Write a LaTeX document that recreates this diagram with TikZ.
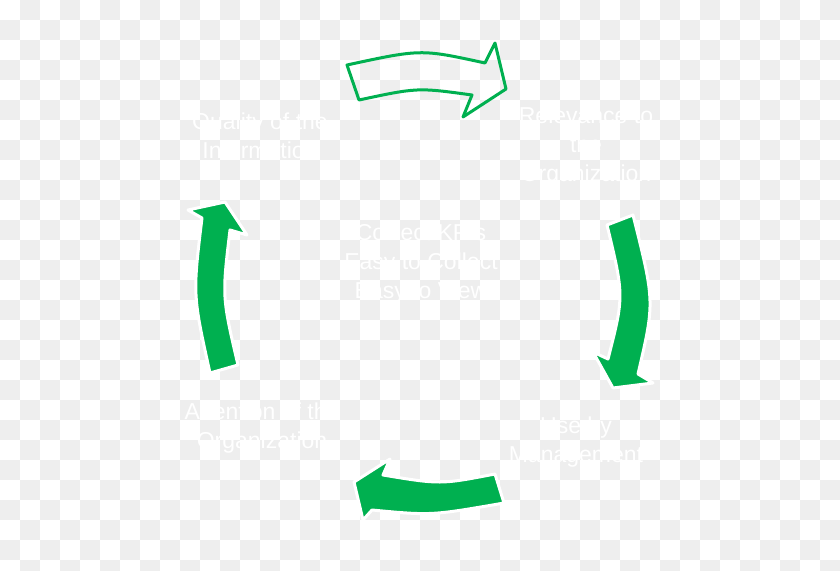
\documentclass[tikz,border=0pt]{standalone}
\usepackage{fontspec}
\setmainfont{Liberation Sans}
\definecolor{CycleGreen}{RGB}{0,176,80}
\definecolor{CheckerGrey}{RGB}{238,238,238}
\tikzset{
  checker/.style={fill=CheckerGrey},
  cyclelabel/.style={text=white, align=center, inner sep=0pt, font=\fontsize{23}{29}\selectfont},
  filledarrow/.style={fill=CycleGreen, draw=white, line width=3pt, line join=round},
  hollowarrow/.style={draw=CycleGreen, line width=3pt, line join=round}
}

\begin{document}
\begin{tikzpicture}[x=1pt, y=-1pt]

    \useasboundingbox (0,0) rectangle (840,570);
    \clip (0,0) rectangle (840,570);

    \foreach \j in {0,...,28} {
        \pgfmathtruncatemacro{\st}{1-mod(\j,2)}
        \pgfmathtruncatemacro{\nx}{\st+2}
        \foreach \i in {\st,\nx,...,41}
            \fill [checker] (\i*20,\j*20) rectangle ++(20,20);
    }

    \draw [hollowarrow] (347,65) .. controls (421,49) .. (485,63)
    -- (495,43) -- (506,89) -- (463,117) -- (472,95)
    .. controls (417.5,87.5) .. (359,100) -- cycle;

    \draw [filledarrow] (607,225) -- (633,215)
    .. controls (654.8,301.9) .. (638,374)
    -- (653,383) -- (613,388) -- (593,352) -- (608,359)
    .. controls (624.1,296) .. cycle;

    \draw [filledarrow] (504,503) -- (495,474)
    .. controls (440.3,484.5) .. (383,475)
    -- (390,459) -- (354,482) -- (363,520) -- (372,510)
    .. controls (431.3,515.6) .. cycle;

    \draw [filledarrow] (210,373) -- (238,365)
    .. controls (222,296.8) .. (230,230)
    -- (247,235) -- (225,202) -- (188,210) -- (202,218)
    .. controls (192.7,294.8) .. cycle;

    \node [cyclelabel] (quality) at (260,136) {Quality of the\\Information};
    \node [cyclelabel] (relevance) at (586,147) {Relevance to\\the\\Organization};
    \node [cyclelabel] (kpis) at (421,264) {Correct KPIs\\Easy to Collect\\Easy to View};
    \node [cyclelabel] (attention) at (262,428) {Attention of the\\Organization};
    \node [cyclelabel] (usage) at (576,442) {Use by\\Management};

\end{tikzpicture}
\end{document}
